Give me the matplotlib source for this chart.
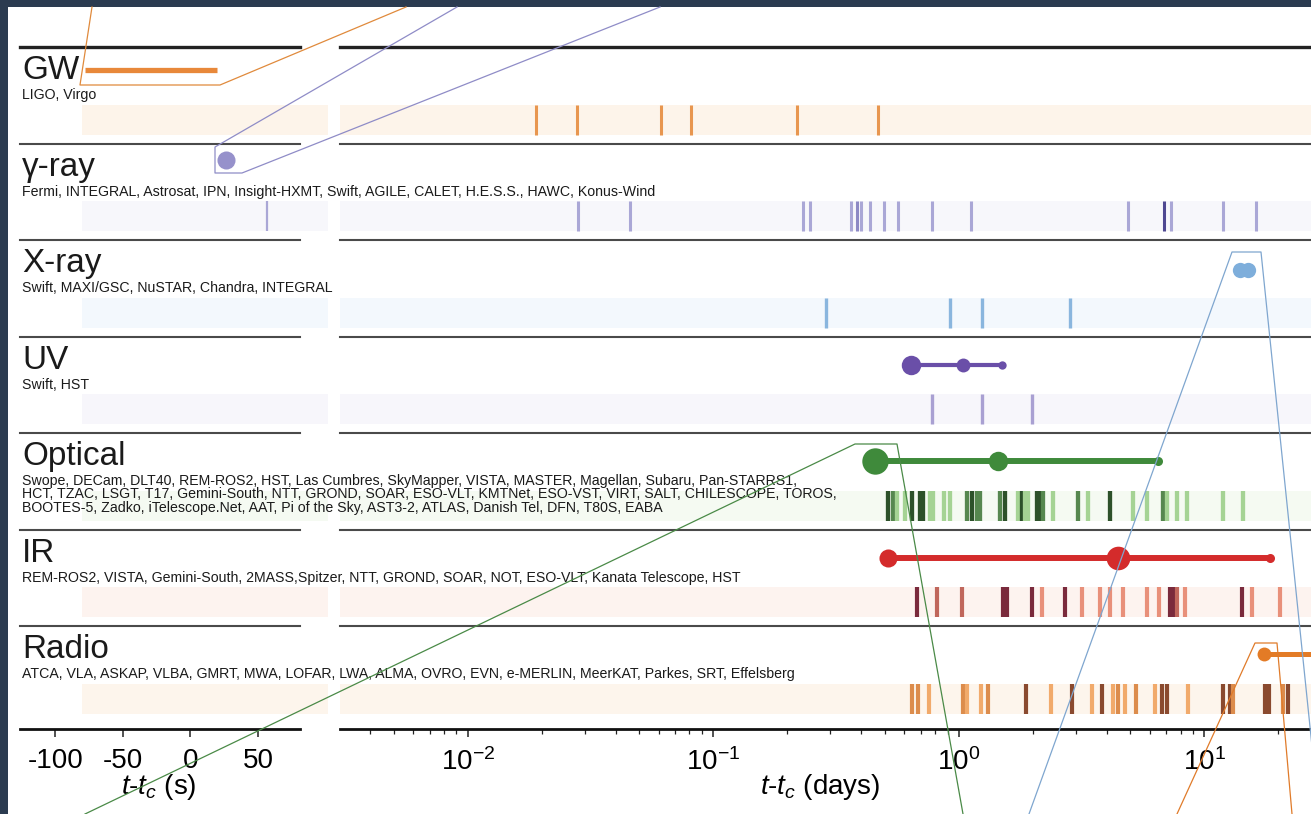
import matplotlib
matplotlib.use('Agg')
import matplotlib.pyplot as plt
from matplotlib.transforms import blended_transform_factory
from matplotlib.lines import Line2D
from matplotlib.patches import Rectangle
from matplotlib.ticker import FixedLocator, LogLocator

plt.rcParams['font.family'] = ['Liberation Sans', 'DejaVu Sans']
plt.rcParams['mathtext.fontset'] = 'custom'
plt.rcParams['mathtext.rm'] = 'Liberation Sans'
plt.rcParams['mathtext.it'] = 'Liberation Sans:italic'
plt.rcParams['mathtext.bf'] = 'Liberation Sans:bold'
plt.rcParams['axes.unicode_minus'] = False

# ---------------- data ----------------
ROW_NAMES = ["GW", "γ-ray", "X-ray", "UV", "Optical", "IR", "Radio"]
INSTRUMENTS = [
    ["LIGO, Virgo"],
    ["Fermi, INTEGRAL, Astrosat, IPN, Insight-HXMT, Swift, AGILE, CALET, H.E.S.S., HAWC, Konus-Wind"],
    ["Swift, MAXI/GSC, NuSTAR, Chandra, INTEGRAL"],
    ["Swift, HST"],
    ["Swope, DECam, DLT40, REM-ROS2, HST, Las Cumbres, SkyMapper, VISTA, MASTER, Magellan, Subaru, Pan-STARRS1,",
     "HCT, TZAC, LSGT, T17, Gemini-South, NTT, GROND, SOAR, ESO-VLT, KMTNet, ESO-VST, VIRT, SALT, CHILESCOPE, TOROS,",
     "BOOTES-5, Zadko, iTelescope.Net, AAT, Pi of the Sky, AST3-2, ATLAS, Danish Tel, DFN, T80S, EABA"],
    ["REM-ROS2, VISTA, Gemini-South, 2MASS,Spitzer, NTT, GROND, SOAR, NOT, ESO-VLT, Kanata Telescope, HST"],
    ["ATCA, VLA, ASKAP, VLBA, GMRT, MWA, LOFAR, LWA, ALMA, OVRO, EVN, e-MERLIN, MeerKAT, Parkes, SRT, Effelsberg"],
]

LEFT_TICKS = [-100, -50, 0, 50]
RIGHT_TICKS = [1e-2, 1e-1, 1e0, 1e1]

# left panel (seconds)
GW_SIGNAL_S = [-78, 20]
GRB_S = [26.5]
GAMMA_LEFT_OBS_S = [56.4]

# detections (days)
XRAY_DET = [14.0, 15.1]
UV_DET = [0.6375, 1.038, 1.496]
OPT_DET = [0.455, 1.441, 6.455]
IR_DET = [0.514, 4.437, 18.45]
RADIO_DET = [17.43, 200.0]

# observation epochs (days) and shade level (0 light, 1 mid, 2 dark)
GW_OBS = [0.01898, 0.02788, 0.0610, 0.0811, 0.2191, 0.4703]
GW_LVL = [0, 0, 0, 0, 0, 0]
GAMMA_OBS = [0.02814, 0.0460, 0.2309, 0.2474, 0.3651, 0.3831, 0.3985, 0.4343, 0.4951,
             0.5646, 0.7801, 1.119, 4.897, 6.83, 7.33, 11.87, 16.18]
GAMMA_LVL = [0, 0, 0, 0, 0, 1, 0, 0, 0, 0, 0, 0, 0, 2, 0, 0, 0]
XRAY_OBS = [0.2886, 0.9191, 1.246, 2.830]
XRAY_LVL = [0, 0, 0, 0]
UV_OBS = [0.7794, 1.246, 1.982]
UV_LVL = [0, 0, 0]
OPT_OBS = [0.5141, 0.5385, 0.5592, 0.6030, 0.6436, 0.6939, 0.7138, 0.7621, 0.7838, 0.8689,
           0.9191, 1.078, 1.130, 1.184, 1.218, 1.469, 1.539, 1.739, 1.805, 1.857,
           1.909, 2.077, 2.137, 2.197, 2.413, 3.050, 3.350, 4.118, 5.108, 5.823,
           6.767, 7.025, 7.716, 8.472, 11.87, 14.32]
OPT_LVL = [2, 1, 0, 0, 2, 2, 2, 0, 0, 0, 0, 1, 2, 1, 1, 1, 2, 0, 2, 0,
           0, 2, 2, 1, 0, 1, 0, 2, 0, 0, 1, 0, 0, 0, 0, 0]
IR_OBS = [0.6745, 0.8139, 1.029, 1.510, 1.568, 1.982, 2.177, 2.701, 3.167, 3.749,
          4.118, 4.651, 5.823, 6.517, 7.224, 7.430, 7.716, 8.313, 14.19, 15.58, 20.26]
IR_LVL = [2, 1, 1, 2, 2, 2, 0, 2, 0, 0, 0, 0, 0, 0, 2, 2, 1, 0, 2, 0, 0]
RADIO_OBS = [0.6436, 0.6809, 0.7547, 1.038, 1.078, 1.229, 1.312, 1.874, 2.368, 2.884,
             3.477, 3.819, 4.235, 4.437, 4.738, 5.253, 6.278, 6.704, 7.025, 8.551,
             11.87, 12.68, 13.04, 17.60, 18.27, 20.83, 21.83]
RADIO_LVL = [1, 1, 0, 1, 0, 0, 1, 2, 0, 2, 0, 2, 0, 1, 0, 1, 0, 2, 2, 0,
             2, 2, 1, 2, 2, 1, 2]

OBS = [GW_OBS, GAMMA_OBS, XRAY_OBS, UV_OBS, OPT_OBS, IR_OBS, RADIO_OBS]
LVL = [GW_LVL, GAMMA_LVL, XRAY_LVL, UV_LVL, OPT_LVL, IR_LVL, RADIO_LVL]

# ---------------- styles ----------------
BAND_COLORS = ['#fdf4ea', '#f7f7fb', '#f3f8fd', '#f7f6fb', '#f5faf2', '#fdf3ef', '#fdf5ec']
TICK_COLORS = [
    ['#e8964f', '#e8964f', '#e8964f'],
    ['#aaa7d6', '#8d89c4', '#4f4891'],
    ['#8ab6de', '#8ab6de', '#8ab6de'],
    ['#a9a0d2', '#a9a0d2', '#a9a0d2'],
    ['#a5d394', '#56874f', '#2d512a'],
    ['#e8907a', '#c0675c', '#7a2a3c'],
    ['#f1aa6b', '#dc8c4c', '#8a4a2f'],
]
TICK_LW = [2.2, 2.2, 2.4, 2.4, 3.1, 3.0, 3.0]
C_GW = '#e8883a'
C_GAMMA = '#9691cb'
C_XRAY = '#7eaedb'
C_UV = '#6a4fa8'
C_OPT = '#3f8a3b'
C_IR = '#d42b2b'
C_RADIO = '#e37b26'

W, H = 1311, 814
fig = plt.figure(figsize=(W / 100, H / 100), dpi=100, facecolor='#2b3b50')


def fx(px):
    return px / W


def fy(py):
    return 1 - py / H


fig.add_artist(Rectangle((fx(8), 0), 1, fy(7), transform=fig.transFigure,
                         facecolor='white', edgecolor='none', zorder=-5))

TOP_PX, BOT_PX, ROW_PX = 47, 729, 96.5
YMAX = (BOT_PX - TOP_PX) / ROW_PX
axL = fig.add_axes([fx(20), fy(BOT_PX), fx(300) - fx(20), fy(TOP_PX) - fy(BOT_PX)])
axR = fig.add_axes([fx(340), fy(BOT_PX), fx(1450) - fx(340), fy(TOP_PX) - fy(BOT_PX)])

for ax in (axL, axR):
    ax.set_facecolor('none')
    ax.set_ylim(YMAX, 0)
    for s in ['top', 'left', 'right']:
        ax.spines[s].set_visible(False)
    ax.spines['bottom'].set_linewidth(2.0)
    ax.spines['bottom'].set_color('#111111')
    ax.set_yticks([])
    ax.axhline(0, color='#222222', lw=2.4, clip_on=False, zorder=3)
    for i in range(1, 7):
        ax.axhline(i, color='#4a4a4a', lw=1.5, clip_on=False, zorder=3)
    ax.tick_params(axis='x', which='major', labelsize=20, length=6, width=1.1, pad=8, color='#222222')
    ax.tick_params(axis='x', which='minor', length=3.5, width=0.9, color='#222222')

axL.set_xlim(-126, 81)
axL.set_xticks(LEFT_TICKS)
axR.set_xscale('log')
axR.set_xlim(10 ** -2.52, 1e2)
axR.xaxis.set_major_locator(FixedLocator(RIGHT_TICKS))
axR.xaxis.set_minor_locator(LogLocator(base=10, subs=range(2, 10), numticks=20))

BAND_LO, BAND_HI = 0.60, 0.91
trL = blended_transform_factory(fig.transFigure, axL.transData)
for i, col in enumerate(BAND_COLORS):
    axR.add_patch(Rectangle((0, i + BAND_LO), 1, BAND_HI - BAND_LO,
                            transform=axR.get_yaxis_transform(), facecolor=col,
                            edgecolor='none', zorder=0.5))
    fig.add_artist(Rectangle((fx(82), i + BAND_LO), fx(328) - fx(82), BAND_HI - BAND_LO,
                             transform=trL, facecolor=col, edgecolor='none', zorder=-1))

# observation epochs
for i, (obs, lvl) in enumerate(zip(OBS, LVL)):
    cols = [TICK_COLORS[i][l] for l in lvl]
    axR.vlines(obs, i + BAND_LO, i + BAND_HI, colors=cols, lw=TICK_LW[i], zorder=2)
axL.vlines(GAMMA_LEFT_OBS_S, 1 + BAND_LO, 1 + BAND_HI, colors=TICK_COLORS[1][0], lw=1.6, zorder=2)

# detections
axL.plot(GW_SIGNAL_S, [0.24, 0.24], color=C_GW, lw=3.8, solid_capstyle='butt', zorder=4)
axL.plot(GRB_S, [1.17], 'o', ms=13, color=C_GAMMA, mec='none', zorder=4)

axR.plot(XRAY_DET, [2.31, 2.31], 'o', ms=11, color=C_XRAY, mec='none', zorder=4)


def det_row(days, y, color, lw, sizes):
    axR.plot(days, [y] * len(days), '-', color=color, lw=lw, zorder=4, solid_capstyle='round')
    for d, s in zip(days, sizes):
        if s > 0:
            axR.plot([d], [y], 'o', ms=s, color=color, mec='none', zorder=5)


det_row(UV_DET, 3.295, C_UV, 3.0, [14, 10, 6])
det_row(OPT_DET, 4.29, C_OPT, 4.3, [19, 14, 6.5])
det_row(IR_DET, 5.295, C_IR, 4.3, [13, 17, 6.5])
det_row(RADIO_DET, 6.29, C_RADIO, 3.6, [10, 0])

# texts
fig.canvas.draw()
renderer = fig.canvas.get_renderer()


def fitted_size(s, target, base, **kw):
    t = fig.text(0, 0, s, fontsize=base, **kw)
    w = t.get_window_extent(renderer).width
    t.remove()
    return base * target / w


BIG = fitted_size("Optical", 103, 22)
SMALL = fitted_size(INSTRUMENTS[1][0], 633, 9)

for i, name in enumerate(ROW_NAMES):
    fig.text(fx(22), i + 0.335, name, transform=trL, fontsize=BIG, va='baseline',
             ha='left', color='#1a1a1a', zorder=6)
    lines = INSTRUMENTS[i]
    if len(lines) == 1:
        ys = [0.50]
    else:
        ys = [0.497, 0.637, 0.777]
    for yy, ln in zip(ys, lines):
        fig.text(fx(22), i + yy, ln, transform=trL, fontsize=SMALL, va='center',
                 ha='left', color='#1a1a1a', zorder=6)

axL.set_xlabel(r'$t$-$t_c$ (s)', fontsize=20, va='center')
axL.xaxis.set_label_coords((159 - 20) / 280, -(787 - BOT_PX) / (BOT_PX - TOP_PX))
axR.set_xlabel(r'$t$-$t_c$ (days)', fontsize=20, va='center')
axR.xaxis.set_label_coords((820 - 340) / 1110, -(787 - BOT_PX) / (BOT_PX - TOP_PX))

# inset connector lines (figure pixels)
CONNECTORS = [
    ([92, 80, 220, 406], [7, 85, 85, 7], '#e08a3c'),
    ([457, 215, 215, 242, 660], [7, 147, 173, 173, 7], '#8f8cc7'),
    ([1029, 1232, 1261, 1319], [814, 252, 252, 814], '#7fa6cf'),
    ([85, 855, 897, 963], [814, 444, 444, 814], '#4a8a47'),
    ([1177, 1255, 1277, 1292], [814, 643, 643, 814], '#e07b2a'),
]
for xs, ys, c in CONNECTORS:
    fig.add_artist(Line2D([fx(v) for v in xs], [fy(v) for v in ys], transform=fig.transFigure,
                          color=c, lw=0.9, zorder=10))

fig.savefig('out.png', dpi=100, facecolor=fig.get_facecolor())
